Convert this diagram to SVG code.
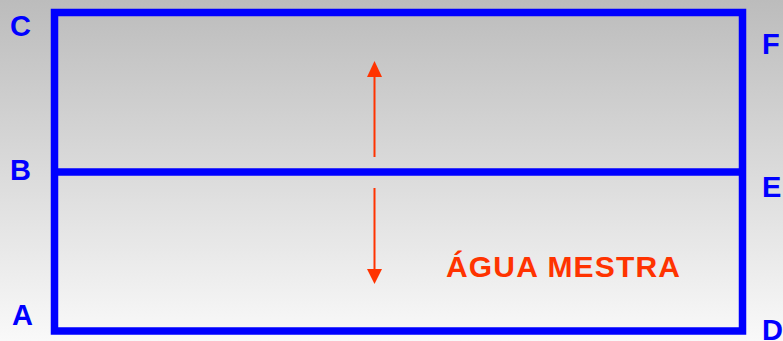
<svg xmlns="http://www.w3.org/2000/svg" width="783" height="341" viewBox="0 0 783 341">
  <defs>
    <linearGradient id="bg" x1="0" y1="0" x2="0" y2="1">
      <stop offset="0" stop-color="#bcbcbc"/>
      <stop offset="1" stop-color="#f9f9f9"/>
    </linearGradient>
    <style>
      .lbl { font-family: "Liberation Sans", Arial, sans-serif; font-weight: bold; font-size: 29px; fill: #0000ff; }
      .frame { fill: none; stroke: #0000ff; stroke-width: 7.5; }
      .shaft { stroke: #ff3300; stroke-width: 2; fill: none; }
      .head { fill: #ff3300; }
      .title { font-family: "Liberation Sans", Arial, sans-serif; font-weight: bold; font-size: 30px; fill: #ff3300; }
    </style>
  </defs>
  <rect x="0" y="0" width="783" height="341" fill="url(#bg)"/>
  <g id="frame">
    <rect class="frame" x="54.5" y="12.5" width="688" height="318.5"/>
    <line class="frame" x1="54.5" y1="172" x2="742.5" y2="172"/>
  </g>
  <g id="labels">
    <text id="C" class="lbl" x="10" y="36">C</text>
    <text id="B" class="lbl" x="10" y="180">B</text>
    <text id="A" class="lbl" x="12" y="325">A</text>
    <text id="F" class="lbl" x="762" y="54">F</text>
    <text id="E" class="lbl" x="762" y="197">E</text>
    <text id="D" class="lbl" x="762" y="340">D</text>
  </g>
  <g id="connectors">
    <path class="shaft" d="M374.5,157 L374.5,70"/>
    <path class="head" d="M367,77 L374.5,61 L382,77 Z"/>
    <path class="shaft" d="M374.5,188 L374.5,275"/>
    <path class="head" d="M367,269 L374.5,284 L382,269 Z"/>
  </g>
  <g id="title">
    <text class="title" x="446" y="277" textLength="234" lengthAdjust="spacing">ÁGUA MESTRA</text>
  </g>
</svg>
